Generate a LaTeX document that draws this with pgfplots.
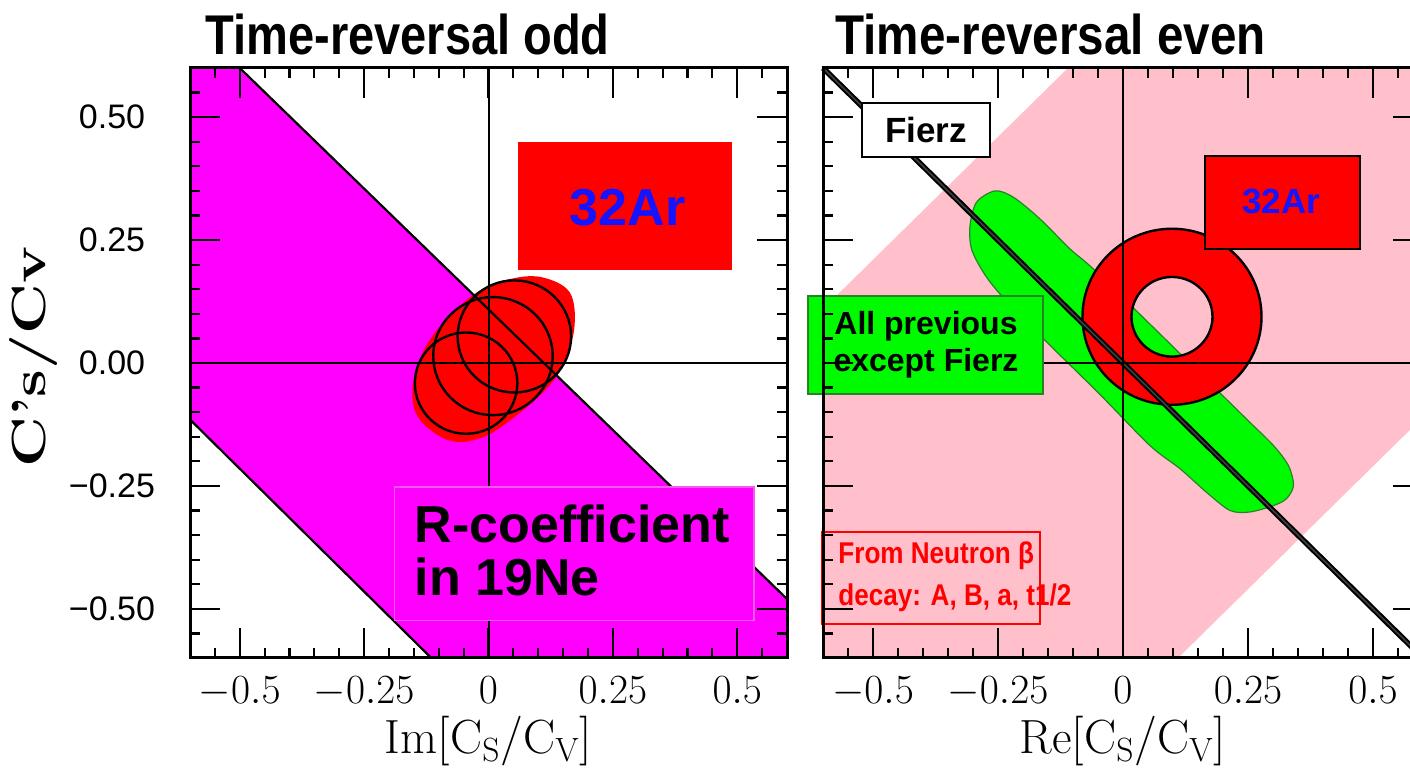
\documentclass[border=0pt]{standalone}
\usepackage{pgfplots}
\pgfplotsset{compat=1.18}
\usepackage{fontspec}
\newfontfamily\hel{Liberation Sans}
\definecolor{mag}{RGB}{255,0,255}
\definecolor{magb}{RGB}{240,90,240}
\definecolor{pinkb}{RGB}{255,192,203}
\definecolor{grn}{RGB}{0,250,0}
\definecolor{dgrn}{RGB}{40,130,40}
\definecolor{bl}{RGB}{20,20,255}
\pgfplotsset{
 panel/.style={
  scale only axis, height=295pt, anchor=south west,
  xmin=-0.6,xmax=0.6,ymin=-0.6,ymax=0.6,
  axis on top,
  xtick={-0.5,-0.25,0,0.25,0.5},
  ytick={-0.5,-0.25,0,0.25,0.5},
  minor xtick={-0.55,-0.45,-0.4,-0.35,-0.3,-0.2,-0.15,-0.1,-0.05,0.05,0.1,0.15,0.2,0.3,0.35,0.4,0.45,0.55},
  minor ytick={-0.55,-0.45,-0.4,-0.35,-0.3,-0.2,-0.15,-0.1,-0.05,0.05,0.1,0.15,0.2,0.3,0.35,0.4,0.45,0.55},
  tick align=inside, xtick pos=both, ytick pos=both,
  major tick length=15pt, minor tick length=5pt,
  every tick/.style={black, line width=1.1pt},
  axis line style={line width=1.5pt},
  xticklabels={$-0.5$,$-0.25$,$0$,$0.25$,$0.5$},
  xticklabel style={font=\fontsize{20}{20}\selectfont, yshift=-6pt},
  xlabel style={at={(axis description cs:0.5,-0.162)}, anchor=base, font=\fontsize{24}{24}\selectfont},
  clip=false,
 }
}
\begin{document}
\begin{tikzpicture}
% ---------------- left panel ----------------
\begin{axis}[panel, at={(95pt,56pt)}, width=298.5pt,
  yticklabels={−0.50,−0.25,0.00,0.25,0.50},
  yticklabel style={font=\hel\fontsize{17}{17}\selectfont, anchor=center, xshift=-39pt},
  xlabel={$\mathrm{Im}[\mathrm{C}_\mathrm{S}/\mathrm{C}_\mathrm{V}]$},
  ylabel={\scalebox{1.3}[1]{C's/Cv}},
  ylabel style={at={(axis description cs:-0.262,0.51)}, anchor=center, inner sep=0pt, font=\fontsize{24}{24}\selectfont\bfseries}]
\addplot[fill=mag, draw=none] coordinates {(-0.6,0.6)(-0.5,0.6)(0.6,-0.48)(0.6,-0.6)(-0.115,-0.6)(-0.6,-0.115)} --cycle;
\addplot[fill=red, draw=none, smooth cycle, tension=0.6] coordinates {
 (0.109,0.174)(0.163,0.144)(0.173,0.076)(0.153,0.001)(0.116,-0.053)(0.056,-0.107)(-0.011,-0.151)
 (-0.078,-0.158)(-0.139,-0.114)(-0.153,-0.053)(-0.132,0.022)(-0.085,0.089)(-0.018,0.147)(0.049,0.172)};
\draw[black, line width=1.2pt] (axis cs:0.052,0.054) circle[radius=0.114];
\draw[black, line width=1.2pt] (axis cs:0.009,0.014) circle[radius=0.12];
\draw[black, line width=1.2pt] (axis cs:-0.045,-0.041) circle[radius=0.103];
\addplot[black, line width=1.1pt] coordinates {(-0.5,0.6)(0.6,-0.48)};
\addplot[black, line width=1.1pt] coordinates {(-0.6,-0.115)(-0.115,-0.6)};
\addplot[black, line width=1pt] coordinates {(0,-0.6)(0,0.6)};
\addplot[black, line width=1pt] coordinates {(-0.6,0)(0.6,0)};
\fill[red] (axis cs:0.06,0.19) rectangle (axis cs:0.49,0.45);
\node[text=bl, font=\hel\bfseries\fontsize{26}{26}\selectfont] at (axis cs:0.28,0.315) {32Ar};
\filldraw[fill=mag, draw=magb, line width=0.8pt] (axis cs:-0.189,-0.252) rectangle (axis cs:0.534,-0.524);
\node[anchor=west, align=left, inner sep=0pt, font=\hel\bfseries\fontsize{26}{26.5}\selectfont] at (axis cs:-0.149,-0.381) {R-coefficient\\in 19Ne};
\end{axis}
% ---------------- right panel ----------------
\begin{axis}[panel, at={(411.5pt,56pt)}, width=300pt,
  yticklabel=\empty,
  xlabel={$\mathrm{Re}[\mathrm{C}_\mathrm{S}/\mathrm{C}_\mathrm{V}]$}]
\addplot[fill=pinkb, draw=none] coordinates {(-0.6,0.11)(-0.6,-0.6)(0.11,-0.6)(0.6,-0.11)(0.6,0.6)(-0.11,0.6)} --cycle;
\addplot[fill=grn, draw=dgrn, line width=0.6pt, smooth cycle, tension=0.5] coordinates {
 (-0.256,0.350)(-0.219,0.337)(-0.166,0.293)(-0.106,0.232)(-0.059,0.191)(0.05,0.083)(0.15,-0.017)
 (0.247,-0.114)(0.301,-0.168)(0.331,-0.209)(0.341,-0.249)(0.327,-0.276)(0.301,-0.290)(0.254,-0.303)
 (0.214,-0.300)(0.167,-0.263)(0.114,-0.215)(0.054,-0.168)(-0.05,-0.06)(-0.15,0.04)(-0.243,0.137)
 (-0.279,0.184)(-0.303,0.232)(-0.306,0.279)(-0.293,0.327)};
\draw[fill=red, draw=black, line width=1.2pt, even odd rule] (axis cs:0.098,0.094) circle[radius=0.179] (axis cs:0.098,0.094) circle[radius=0.081];
\addplot[black, line width=2.8pt] coordinates {(-0.6,0.6)(0.6,-0.6)};
\addplot[gray!50!black, line width=0.8pt] coordinates {(-0.6,0.6)(0.6,-0.6)};
\addplot[black, line width=1pt] coordinates {(0,-0.6)(0,0.6)};
\addplot[black, line width=1pt] coordinates {(-0.6,0)(0.6,0)};
\filldraw[fill=white, draw=black, line width=1pt] (axis cs:-0.522,0.528) rectangle (axis cs:-0.266,0.419);
\node[font=\hel\bfseries\fontsize{17.5}{17.5}\selectfont] at (axis cs:-0.394,0.474) {Fierz};
\filldraw[fill=red, draw=black, line width=1pt] (axis cs:0.164,0.421) rectangle (axis cs:0.474,0.232);
\node[text=bl, font=\hel\bfseries\fontsize{17.5}{17.5}\selectfont] at (axis cs:0.316,0.328) {32Ar};
\filldraw[fill=grn, draw=dgrn, line width=1pt] (axis cs:-0.63,0.136) rectangle (axis cs:-0.16,-0.063);
\node[align=center, font=\hel\bfseries\fontsize{16}{18.5}\selectfont] at (axis cs:-0.394,0.037) {All previous\\except Fierz};
\filldraw[fill=pinkb, draw=red, line width=1pt] (axis cs:-0.602,-0.343) rectangle (axis cs:-0.166,-0.530);
\node[anchor=west, inner sep=0pt] at (axis cs:-0.57,-0.434) {\scalebox{0.87}[1]{\parbox{220pt}{\raggedright\hel\bfseries\color{red}\fontsize{15}{21}\selectfont From Neutron β\\decay: A, B, a, t1/2}}};
\end{axis}
\node[anchor=base west, inner sep=0pt] at (102.5pt,357.5pt) {\scalebox{0.84}[1]{\hel\bfseries\fontsize{28}{28}\selectfont Time-reversal odd}};
\node[anchor=base west, inner sep=0pt] at (417.5pt,357.5pt) {\scalebox{0.85}[1]{\hel\bfseries\fontsize{28}{28}\selectfont Time-reversal even}};
\pgfresetboundingbox
\path[use as bounding box] (0,0) rectangle (705pt,385pt);
\end{tikzpicture}
\end{document}
